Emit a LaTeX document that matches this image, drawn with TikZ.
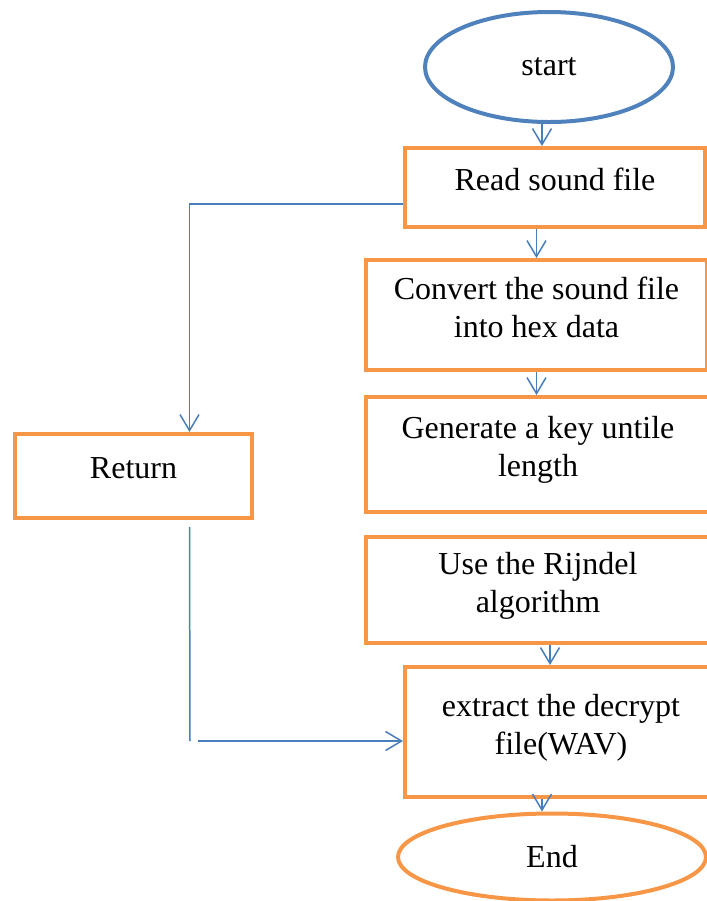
\documentclass[tikz,border=0pt]{standalone}
\usepackage{fontspec}
\setmainfont{Liberation Serif}
\usetikzlibrary{shapes.geometric,arrows.meta}
\definecolor{boxorange}{HTML}{F79646}
\definecolor{lineblue}{HTML}{4A7EBB}
\definecolor{startblue}{HTML}{4F81BD}
\begin{document}
\begin{tikzpicture}[x=0.5pt,y=-0.5pt,
  font=\fontsize{16}{19}\selectfont,
  procbox/.style={draw=boxorange, line width=2pt, fill=white, inner sep=0pt, align=center, text depth=8pt},
  termnode/.style={ellipse, line width=2pt, fill=white, inner sep=0pt},
  link/.style={draw=lineblue, line width=0.75pt},
  flow/.style={link, -{Straight Barb[length=8pt,width=9.5pt]}}]
\useasboundingbox (0,0) rectangle (707,901);
\clip (0,0) rectangle (707,901);
\node[termnode, draw=startblue, minimum width=124pt, minimum height=55pt] (start) at (549,67){start};
\node[procbox, minimum width=150pt, minimum height=39.5pt] (read) at (555,187.5){Read sound file};
\node[procbox, minimum width=170.5pt, minimum height=55pt] (convert) at (536.5,315){Convert the sound file\\into hex data};
\node[procbox, minimum width=172pt, minimum height=57.5pt] (generate) at (538,454.5){Generate a key untile\\length};
\node[procbox, minimum width=172pt, minimum height=52.75pt] (use) at (538,590){Use the Rijndel\\algorithm};
\node[procbox, minimum width=156pt, minimum height=65pt] (extract) at (561,732){extract the decrypt\\file(WAV)};
\node[termnode, draw=boxorange, minimum width=154pt, minimum height=43.5pt] (end) at (552,857){End};
\node[procbox, minimum width=118.5pt, minimum height=42pt] (return) at (133.5,476){Return};
\coordinate (corner) at (190,741);
\draw[flow]([xshift=-3.5pt]start.south) -- ([xshift=-3.5pt]start.south |- read.north);
\draw[flow](read.south -| convert.north) -- (convert.north);
\draw[flow](convert.south) -- (convert.south |- generate.north);
\draw[flow]([xshift=6pt]use.south) -- ([xshift=6pt]use.south |- extract.north);
\draw[flow]([xshift=-5pt]end.north |- extract.south) -- ([xshift=-5pt]end.north);
\draw[flow]([yshift=-8.25pt]read.west) -| ([xshift=28pt]return.north);
\draw[link, shorten <=3.5pt]([xshift=28pt]return.south) -- (corner);
\draw[flow, shorten <=4pt](corner) -- (corner -| extract.west);
\end{tikzpicture}
\end{document}
